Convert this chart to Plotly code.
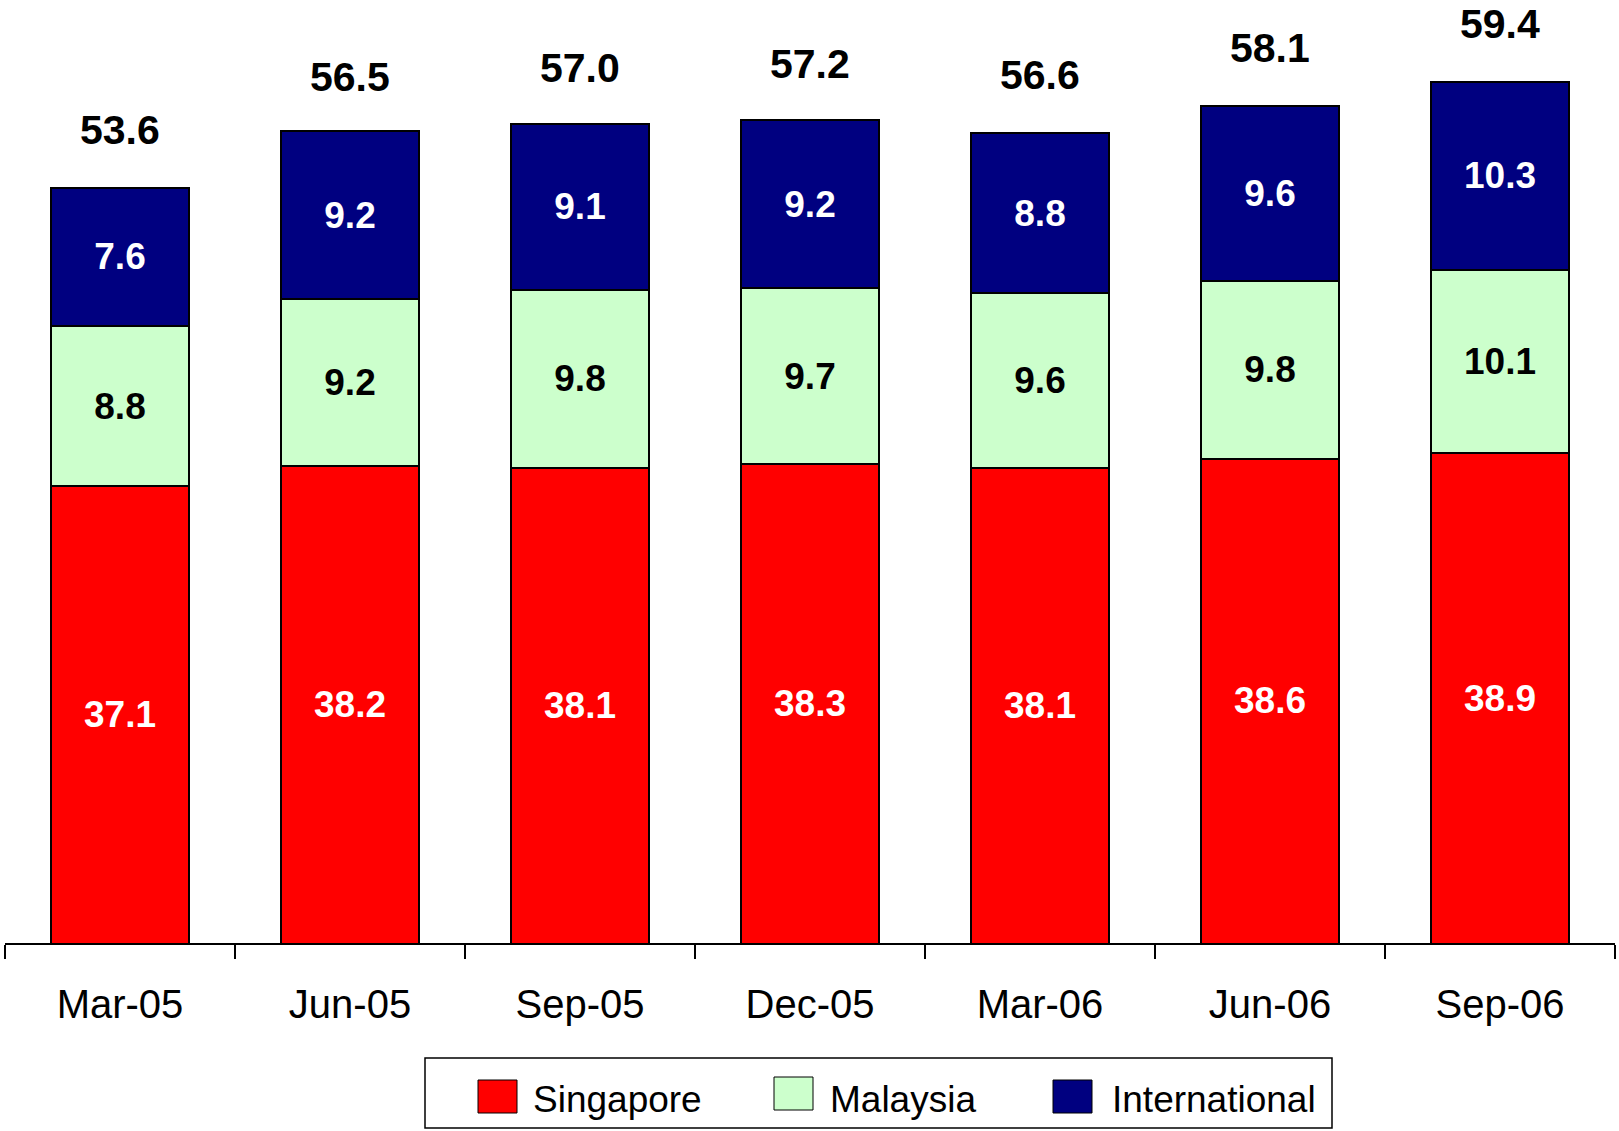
import plotly.graph_objects as go

categories = ["Mar-05", "Jun-05", "Sep-05", "Dec-05", "Mar-06", "Jun-06", "Sep-06"]
singapore = [37.1, 38.2, 38.1, 38.3, 38.1, 38.6, 38.9]
malaysia = [8.8, 9.2, 9.8, 9.7, 9.6, 9.8, 10.1]
international = [7.6, 9.2, 9.1, 9.2, 8.8, 9.6, 10.3]
totals = [53.6, 56.5, 57.0, 57.2, 56.6, 58.1, 59.4]

series = [
    ("Singapore", singapore, "#FF0000", "white"),
    ("Malaysia", malaysia, "#CCFFCC", "black"),
    ("International", international, "#000080", "white"),
]

FONT = "Arial, Liberation Sans, sans-serif"
W, H = 1619, 1131
ML, MR, MT, MB = 5, 4, 0, 188
PW = W - ML - MR
PH = H - MT - MB
YMIN = 12.0
YMAX = YMIN + PH / 18.2

fig = go.Figure()
for i, (name, vals, color, tcolor) in enumerate(series):
    show_inside = i > 0
    fig.add_trace(go.Bar(
        x=categories, y=vals, name=name,
        marker=dict(color=color, line=dict(color="black", width=2)),
        text=[f"{v:.1f}" for v in vals] if show_inside else None,
        textposition="inside" if show_inside else "none",
        insidetextanchor="middle", textangle=0,
        textfont=dict(family=FONT, size=37, color=tcolor, weight="bold"),
        showlegend=False, hoverinfo="skip",
    ))

# Singapore labels centred in the visible part of the bottom segment
for c, v in zip(categories, singapore):
    fig.add_annotation(x=c, y=(YMIN + v) / 2, text=f"{v:.1f}", showarrow=False,
                       yanchor="middle",
                       font=dict(family=FONT, size=37, color="white", weight="bold"))

# totals above bars
for c, t in zip(categories, totals):
    fig.add_annotation(x=c, y=t, text=f"{t:.1f}", showarrow=False,
                       yanchor="middle", yshift=56, borderpad=0,
                       font=dict(family=FONT, size=41, color="black", weight="bold"))

def px2paper(px, py):
    return (px - ML) / PW, (H - MB - py) / PH

# legend box drawn by hand (large swatches as in the reference)
x0, y0 = px2paper(425, 1058)
x1, y1 = px2paper(1332, 1128)
fig.add_shape(type="rect", xref="paper", yref="paper", x0=x0, y0=y1, x1=x1, y1=y0,
              line=dict(color="black", width=1.5), fillcolor="white")
legend_pos = [(478, 1080, 531), (774, 1077, 828), (1053, 1080, 1110)]
for (name, vals, color, tcolor), (sx, sy, tx) in zip(series, legend_pos):
    a0, b0 = px2paper(sx, sy)
    a1, b1 = px2paper(sx + 39, sy + 33)
    fig.add_shape(type="rect", xref="paper", yref="paper", x0=a0, y0=b1, x1=a1, y1=b0,
                  line=dict(color="black", width=1), fillcolor=color)
    ta, tb = px2paper(tx, 1099)
    fig.add_annotation(xref="paper", yref="paper", x=ta, y=tb, text=name,
                       showarrow=False, xanchor="left", yanchor="middle",
                       font=dict(family=FONT, size=37, color="black"))

fig.update_layout(
    barmode="stack", bargap=0.4,
    width=W, height=H,
    margin=dict(l=ML, r=MR, t=MT, b=MB, pad=0),
    plot_bgcolor="white", paper_bgcolor="white",
    font=dict(family=FONT),
    hovermode=False,
)
fig.update_xaxes(
    showline=True, linecolor="black", linewidth=2,
    ticks="outside", tickson="boundaries", ticklen=14, tickwidth=2, tickcolor="black",
    tickfont=dict(family=FONT, size=40, color="black"),
    ticklabelstandoff=25,
    showgrid=False,
)
fig.update_yaxes(range=[YMIN, YMAX], visible=False, showgrid=False)

fig.write_html("out.html", config={"displayModeBar": False},
               post_script="document.body.style.margin='0px';document.body.style.overflow='hidden';")
